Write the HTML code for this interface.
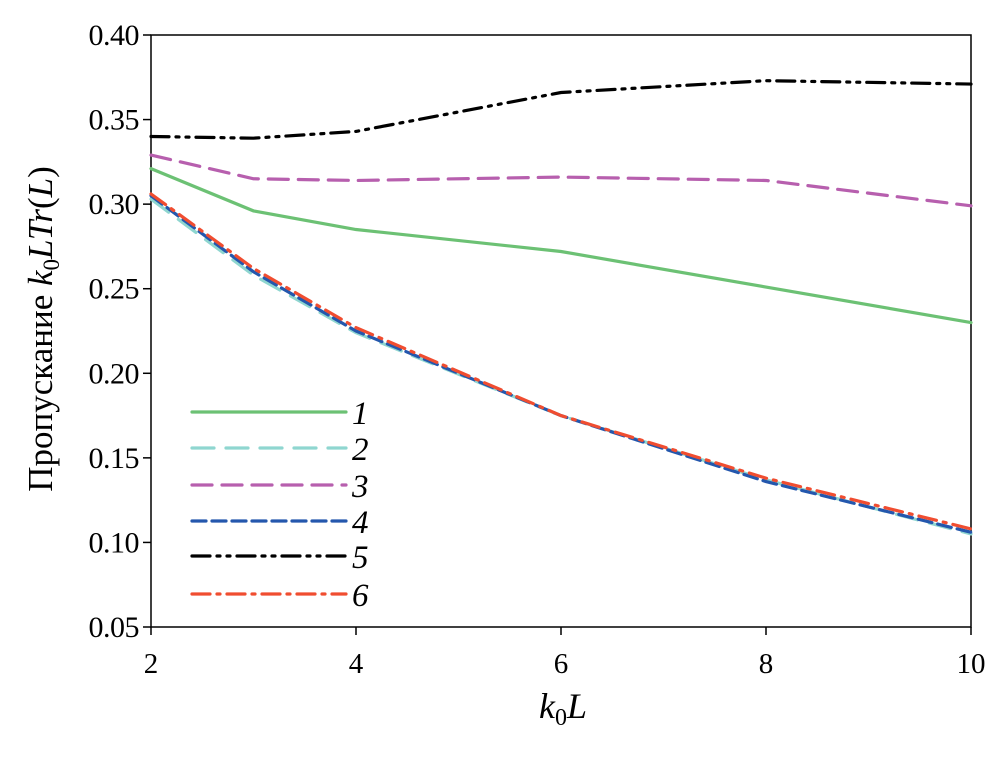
<!DOCTYPE html>
<html><head><meta charset="utf-8"><style>
body{margin:0;background:#fff}
text{font-family:"Liberation Serif","Noto Serif CJK SC",serif;fill:#000}
</style></head><body>
<svg id="chart" width="1008" height="761" xmlns="http://www.w3.org/2000/svg"></svg>
<script>
const xValues=[2,3,4,6,8,10];
const s1=[0.321,0.296,0.285,0.272,0.251,0.230];
const s2=[0.303,0.258,0.224,0.175,0.137,0.105];
const s3=[0.329,0.315,0.314,0.316,0.314,0.299];
const s4=[0.305,0.260,0.225,0.175,0.136,0.106];
const s5=[0.340,0.339,0.343,0.366,0.373,0.371];
const s6=[0.306,0.262,0.227,0.175,0.138,0.108];
const xTicks=[2,4,6,8,10];
const yTicks=[0.05,0.10,0.15,0.20,0.25,0.30,0.35,0.40];
const labels=["1","2","3","4","5","6"];
const NS="http://www.w3.org/2000/svg";
const svg=document.getElementById('chart');
const L=151,R=971,T=35,B=627;
const sx=v=>L+(v-2)/8*(R-L);
const sy=v=>B-(v-0.05)/0.35*(B-T);
function mk(tag,attrs,parent){const e=document.createElementNS(NS,tag);for(const k in attrs)e.setAttribute(k,attrs[k]);(parent||svg).appendChild(e);return e;}
const frame=mk('rect',{x:L,y:T,width:R-L,height:B-T,fill:'none',stroke:'#000','stroke-width':1.5});


yTicks.forEach(v=>{
  const t=mk('line',{x1:L-8,x2:L,y1:sy(v),y2:sy(v),stroke:'#000','stroke-width':1.5});
  
  
  const tx=mk('text',{x:L-12,y:sy(v)+10,'text-anchor':'end','font-size':30,'letter-spacing':-0.5});
  tx.textContent=v.toFixed(2);
  
  
});
xTicks.forEach(v=>{
  const t=mk('line',{x1:sx(v),x2:sx(v),y1:B,y2:B+8,stroke:'#000','stroke-width':1.5});
  
  
  const tx=mk('text',{x:sx(v),y:B+46,'text-anchor':'middle','font-size':29});
  tx.textContent=v;
  
  
});
const xt=mk('text',{x:563,y:718,'text-anchor':'middle','font-size':36,'font-style':'italic'});
xt.innerHTML='k<tspan font-size="24" dy="7" font-style="normal">0</tspan><tspan dy="-7">L</tspan>';


const yt=mk('text',{x:0,y:0,'text-anchor':'middle','font-size':35,transform:'translate(52,329) rotate(-90)'});
yt.innerHTML='Пропускание  <tspan font-style="italic">k</tspan><tspan font-size="23" dy="7">0</tspan><tspan dy="-7" font-style="italic">LTr</tspan>(<tspan font-style="italic">L</tspan>)';


const series=[
 {d:s1,c:'#6cc174',dash:''},
 {d:s2,c:'#8fd6d0',dash:'22 12'},
 {d:s3,c:'#b75fae',dash:'20 10'},
 {d:s4,c:'#2457ad',dash:'14 6'},
 {d:s5,c:'#000',dash:'18 7 3 7 3 7'},
 {d:s6,c:'#f04d30',dash:'18 7 3 7'}];
const legY=[412,448,485,521,556,594];
series.forEach((s,i)=>{
  const p=mk('polyline',{points:s.d.map((v,j)=>sx(xValues[j])+','+sy(v)).join(' '),fill:'none',stroke:s.c,'stroke-width':3.2,'stroke-dasharray':s.dash,'stroke-linecap':'round'});
  
  
  const l=mk('line',{x1:192,x2:346,y1:legY[i],y2:legY[i],stroke:s.c,'stroke-width':3.2,'stroke-dasharray':s.dash,'stroke-linecap':'round'});
  
  
  const t=mk('text',{x:352,y:legY[i]+12,'font-size':33,'font-style':'italic'});
  t.textContent=labels[i];
  
  
});
</script>
</body></html>
